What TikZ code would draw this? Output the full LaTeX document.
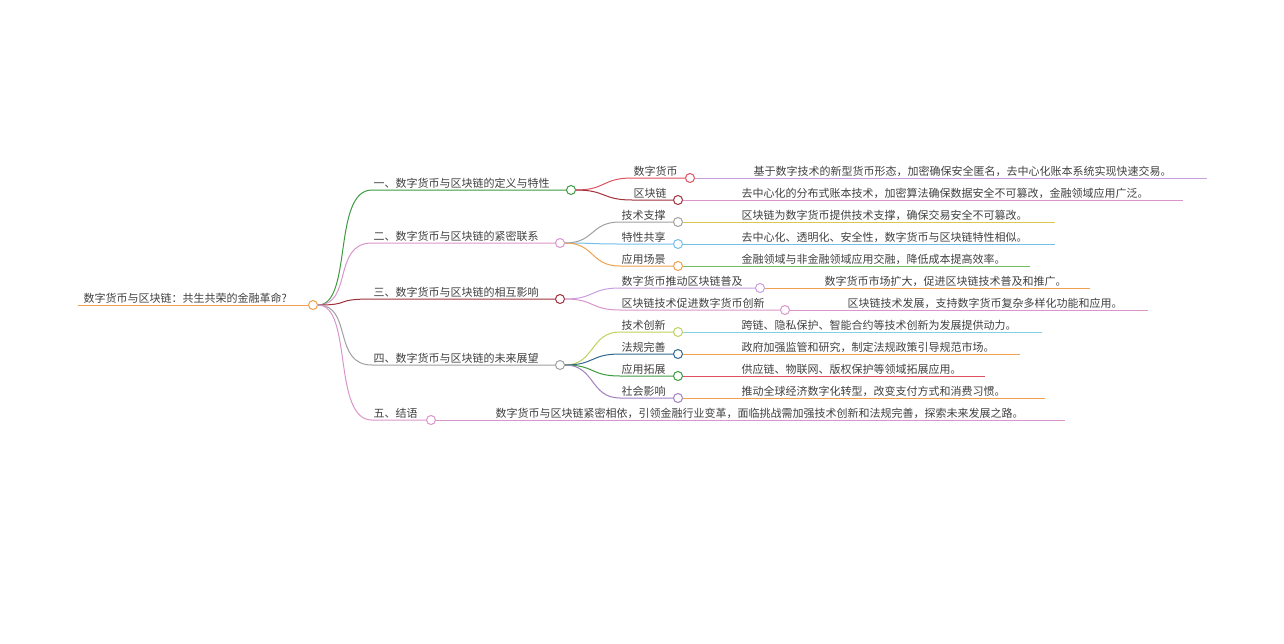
\documentclass[tikz,border=0pt]{standalone}
\usepackage{fontspec}
\setmainfont{Noto Sans CJK SC}
\begin{document}
\begin{tikzpicture}[x=1pt,y=-1pt,line width=1pt,
  circ/.style={circle,draw=#1,fill=white,inner sep=0pt,minimum size=9pt,line width=1pt},
  lbl/.style={anchor=south west,inner sep=1pt,font=\fontsize{11}{12}\selectfont,text=black!75}]
\useasboundingbox (0,0) rectangle (1284,643);
\definecolor{cOr}{HTML}{F0A050}
\definecolor{cGr}{HTML}{3C9A40}
\definecolor{cPk}{HTML}{DA95CC}
\definecolor{cDr}{HTML}{A0303A}
\definecolor{cGy}{HTML}{A0A0A0}
\definecolor{cRd}{HTML}{E05060}
\definecolor{cPu}{HTML}{C8A0E0}
\definecolor{cYe}{HTML}{D8C850}
\definecolor{cBl}{HTML}{70C0E8}
\definecolor{cGn}{HTML}{70C060}
\definecolor{cTl}{HTML}{306890}
\definecolor{cCy}{HTML}{80D0E0}
\definecolor{cYg}{HTML}{C0D060}
\definecolor{cVi}{HTML}{A080C0}
% root
\coordinate (rs) at (78,305);
\node[circ=cOr] (r) at (313,305) {};
\draw[cOr] (rs) -- (r.west);
\node[lbl] (rt) at (82,305) {数字货币与区块链：共生共荣的金融革命?};
% level 1
\newcommand\lone[6]{% name, startx, y, circx, color, text
  \coordinate (#1s) at (#2,#3);
  \node[circ=#5] (#1) at (#4,#3) {};
  \draw[#5] (r.east) .. controls +(35,0) and +(-40,0) .. (#1s) -- (#1.west);
  \node[lbl] (#1t) at (#2,#3) {#6};}
\lone{a}{372}{190}{571}{cGr}{一、数字货币与区块链的定义与特性}
\lone{b}{372}{243}{560}{cPk}{二、数字货币与区块链的紧密联系}
\lone{c}{372}{299}{560}{cDr}{三、数字货币与区块链的相互影响}
\lone{d}{372}{365}{560}{cGy}{四、数字货币与区块链的未来展望}
\lone{e}{372}{420}{431}{cPk}{五、结语}
% level 2
\newcommand\ltwo[9]{% parent, name, startx, y, circx, color, text, leafx, leafend
  \coordinate (#2s) at (#3,#4);
  \node[circ=#6] (#2) at (#5,#4) {};
  \draw[#6] (#1.east) .. controls +(30,0) and +(-30,0) .. (#2s) -- (#2.west);
  \node[lbl] (#2t) at (#3,#4) {#7};
  \node[lbl] (#2l) at (#8,#4) {\ltwoleaf};
  \coordinate (#2e) at (#9,#4);}
\newcommand\leaf[4]{% circle, leaf text x, end x, color, text via arg5
  }
\newcommand\mk[9]{%
  \coordinate (#2s) at (#3,#4);
  \node[circ=#6] (#2) at (#5,#4) {};
  \draw[#6] (#1.east) .. controls +(30,0) and +(-30,0) .. (#2s) -- (#2.west);
  \node[lbl] (#2t) at (#3,#4) {#7};
  \coordinate (#2e) at (#9,#4);
  \draw[#8] (#2.east) -- (#2e);}
\newcommand\lt[3]{\node[lbl] (#1l) at (#2,#3) }
% 1
\mk{a}{aa}{632}{178}{690}{cRd}{数字货币}{cPu}{1207}
\lt{aa}{752}{178}{基于数字技术的新型货币形态，加密确保安全匿名，去中心化账本系统实现快速交易。};
\mk{a}{ab}{632}{200}{678}{cDr}{区块链}{cPk}{1183}
\lt{ab}{740}{200}{去中心化的分布式账本技术，加密算法确保数据安全不可篡改，金融领域应用广泛。};
% 2
\mk{b}{ba}{620}{222}{678}{cGy}{技术支撑}{cYe}{1055}
\lt{ba}{740}{222}{区块链为数字货币提供技术支撑，确保交易安全不可篡改。};
\mk{b}{bb}{620}{244}{678}{cBl}{特性共享}{cBl}{1055}
\lt{bb}{740}{244}{去中心化、透明化、安全性，数字货币与区块链特性相似。};
\mk{b}{bc}{620}{266}{678}{cOr}{应用场景}{cGn}{1030}
\lt{bc}{740}{266}{金融领域与非金融领域应用交融，降低成本提高效率。};
% 3
\mk{c}{ca}{620}{288}{760}{cPu}{数字货币推动区块链普及}{cOr}{1090}
\lt{ca}{823}{288}{数字货币市场扩大，促进区块链技术普及和推广。};
\mk{c}{cb}{620}{310}{785}{cPk}{区块链技术促进数字货币创新}{cPk}{1148}
\lt{cb}{846}{310}{区块链技术发展，支持数字货币复杂多样化功能和应用。};
% 4
\mk{d}{da}{620}{332}{678}{cYg}{技术创新}{cCy}{1042}
\lt{da}{740}{332}{跨链、隐私保护、智能合约等技术创新为发展提供动力。};
\mk{d}{db}{620}{354}{678}{cTl}{法规完善}{cOr}{1020}
\lt{db}{740}{354}{政府加强监管和研究，制定法规政策引导规范市场。};
\mk{d}{dc}{620}{376}{678}{cGr}{应用拓展}{cRd}{985}
\lt{dc}{740}{376}{供应链、物联网、版权保护等领域拓展应用。};
\mk{d}{dd}{620}{398}{678}{cVi}{社会影响}{cOr}{1045}
\lt{dd}{740}{398}{推动全球经济数字化转型，改变支付方式和消费习惯。};
% 5 leaf
\coordinate (ee) at (1065,420);
\draw[cPk] (e.east) -- (ee);
\node[lbl] (el) at (494,420) {数字货币与区块链紧密相依，引领金融行业变革，面临挑战需加强技术创新和法规完善，探索未来发展之路。};
\end{tikzpicture}
\end{document}
